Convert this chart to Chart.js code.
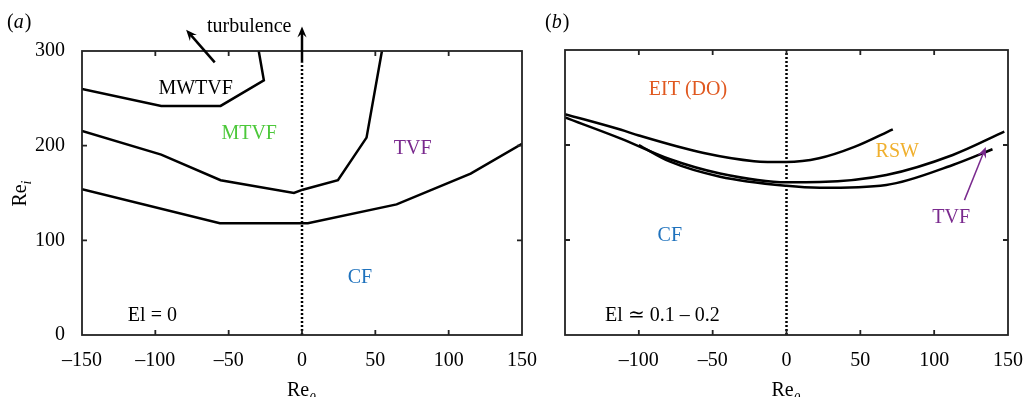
<!DOCTYPE html>
<html>
<head>
<meta charset="utf-8">
<script src="https://cdn.jsdelivr.net/npm/chart.js@4"></script>
<style>
  body { margin: 0; background: #fff; }
  #wrap { position: relative; width: 1025px; height: 397px; }
  .panel { position: absolute; top: 0; height: 397px; }
</style>
</head>
<body>
<div id="wrap">
  <div class="panel" style="left:0;width:540px"><canvas id="chartA"></canvas></div>
  <div class="panel" style="left:540px;width:485px"><canvas id="chartB"></canvas></div>
</div>
<script>
// axis ticks
const xTicks = [-150, -100, -50, 0, 50, 100, 150];
const yTicks = [0, 100, 200, 300];

// (a) El = 0 boundaries
const mwtvfX = [-150, -96, -55.5, -26, -29.5];
const mwtvfY = [260, 242, 242, 269, 300];
const mtvfX = [-150, -96, -55.5, -5.5, 0.5, 24.5, 44, 54.5];
const mtvfY = [215.5, 190.5, 163.5, 150, 153.5, 163.5, 208.5, 300];
const cfX = [-150, -56, 4, 64.5, 115, 150];
const cfY = [154, 118, 118, 138, 170.5, 202];

// (b) El ~ 0.1-0.2 boundaries
const eitX = [-150, -112, -100, -56, -22, 0, 22, 46, 72];
const eitY = [232.5, 216, 210, 191.5, 183, 182, 186, 198, 216.5];
const rswX = [-150, -112.6, -78.8, -45, 0, 22.5, 67.6, 112.6, 147.5];
const rswY = [229, 207, 185, 170, 160.7, 161, 168.4, 189.5, 214];
const tvfX = [-100, -78.8, -45, 0, 22.5, 67.6, 112.6, 139.5];
const tvfY = [200, 182.4, 166.6, 157, 155, 158, 179, 195.5];

const serif = '"Liberation Serif", "Times New Roman", serif';
const fmt = v => v < 0 ? '\u2013' + Math.abs(v) : String(v);
const pts = (xs, ys) => xs.map((x, i) => ({ x: x, y: ys[i] }));

function line(xs, ys, smooth) {
  return {
    data: pts(xs, ys), showLine: true, borderColor: '#000', borderWidth: 2.5,
    pointRadius: 0, fill: false, cubicInterpolationMode: smooth ? 'monotone' : 'default'
  };
}
function dotted(top) {
  return {
    data: [{ x: 0, y: 0 }, { x: 0, y: top }], showLine: true, borderColor: '#000',
    borderWidth: 2.5, borderDash: [2, 2], pointRadius: 0
  };
}

function arrow(ctx, x1, y1, x2, y2, color, w, head) {
  const ang = Math.atan2(y2 - y1, x2 - x1);
  ctx.strokeStyle = color; ctx.fillStyle = color; ctx.lineWidth = w;
  ctx.beginPath();
  ctx.moveTo(x1, y1);
  ctx.lineTo(x2 - Math.cos(ang) * head * 0.6, y2 - Math.sin(ang) * head * 0.6);
  ctx.stroke();
  ctx.save();
  ctx.translate(x2, y2); ctx.rotate(ang);
  ctx.beginPath();
  ctx.moveTo(0, 0); ctx.lineTo(-head, -head * 0.42); ctx.lineTo(-head * 0.65, 0); ctx.lineTo(-head, head * 0.42);
  ctx.closePath(); ctx.fill();
  ctx.restore();
}

function makeDecor(cfg) {
  return {
    id: 'decor',
    afterDatasetsDraw(chart) {
      const { ctx, chartArea: a, scales: { x, y } } = chart;
      ctx.save();
      ctx.strokeStyle = '#222'; ctx.lineWidth = 1.8;
      ctx.strokeRect(a.left, a.top, a.right - a.left, a.bottom - a.top);
      // inward tick marks on all four sides
      ctx.beginPath();
      x.ticks.forEach(t => {
        if (t.value <= x.min || t.value >= x.max) return;
        const px = x.getPixelForValue(t.value);
        ctx.moveTo(px, a.bottom); ctx.lineTo(px, a.bottom - 5);
        ctx.moveTo(px, a.top); ctx.lineTo(px, a.top + 5);
      });
      y.ticks.forEach(t => {
        if (t.value <= y.min || t.value >= y.max) return;
        const py = y.getPixelForValue(t.value);
        ctx.moveTo(a.left, py); ctx.lineTo(a.left + 5, py);
        ctx.moveTo(a.right, py); ctx.lineTo(a.right - 5, py);
      });
      ctx.stroke();

      ctx.textAlign = 'center'; ctx.textBaseline = 'middle';
      cfg.labels.forEach(l => {
        ctx.font = '20px ' + serif;
        ctx.fillStyle = l.color;
        ctx.fillText(l.text, x.getPixelForValue(l.x), y.getPixelForValue(l.y));
      });
      cfg.arrows.forEach(r => {
        arrow(ctx, x.getPixelForValue(r.from[0]), y.getPixelForValue(r.from[1]),
          x.getPixelForValue(r.to[0]), y.getPixelForValue(r.to[1]), r.color, r.width, r.head);
      });

      // panel tag
      ctx.fillStyle = '#000'; ctx.textAlign = 'left'; ctx.textBaseline = 'alphabetic';
      ctx.font = '20px ' + serif;
      let tx = cfg.tagX;
      ctx.fillText('(', tx, 28); tx += ctx.measureText('(').width;
      ctx.font = 'italic 20px ' + serif;
      ctx.fillText(cfg.tag, tx, 28); tx += ctx.measureText(cfg.tag).width + 1;
      ctx.font = '20px ' + serif;
      ctx.fillText(')', tx, 28);

      // x title Re_theta
      const cx = (a.left + a.right) / 2;
      ctx.font = '20px ' + serif;
      const w1 = ctx.measureText('Re').width;
      ctx.fillText('Re', cx - (w1 + 8) / 2, 396);
      ctx.font = 'italic 14px ' + serif;
      ctx.fillText('\u03b8', cx - (w1 + 8) / 2 + w1, 403);

      // y title Re_i
      if (cfg.yTitle) {
        ctx.save();
        ctx.translate(26, 193);
        ctx.rotate(-Math.PI / 2);
        ctx.font = '20px ' + serif;
        const w2 = ctx.measureText('Re').width;
        ctx.fillText('Re', -(w2 + 5) / 2, 0);
        ctx.font = 'italic 14px ' + serif;
        ctx.fillText('i', -(w2 + 5) / 2 + w2, 5);
        ctx.restore();
      }
      ctx.restore();
    }
  };
}

function scales(yWidth, showY, hideFirstX) {
  return {
    x: {
      type: 'linear', min: -150, max: 150,
      afterBuildTicks: s => { s.ticks = xTicks.map(v => ({ value: v })); },
      afterFit: s => { s.height = 62; s.paddingLeft = 0; s.paddingRight = 0; },
      grid: { display: false }, border: { display: false },
      ticks: {
        padding: 6, color: '#000', font: { family: serif, size: 20 }, maxRotation: 0,
        callback: v => (hideFirstX && v === -150) ? '' : fmt(v)
      }
    },
    y: {
      type: 'linear', min: 0, max: 300,
      afterBuildTicks: s => { s.ticks = yTicks.map(v => ({ value: v })); },
      afterFit: s => { s.width = yWidth; s.paddingTop = 0; s.paddingBottom = 0; },
      grid: { display: false }, border: { display: false },
      ticks: { display: showY, padding: 9, color: '#000', font: { family: serif, size: 20 } }
    }
  };
}

const baseOpts = {
  responsive: true, maintainAspectRatio: false, animation: false,
  plugins: { legend: { display: false }, tooltip: { enabled: false } }
};

new Chart(document.getElementById('chartA'), {
  type: 'scatter',
  data: {
    datasets: [
      line(mwtvfX, mwtvfY), line(mtvfX, mtvfY), line(cfX, cfY), dotted(288)
    ]
  },
  options: Object.assign({}, baseOpts, {
    layout: { padding: { top: 51, right: 18, left: 0, bottom: 0 } },
    scales: scales(82, true, false)
  }),
  plugins: [makeDecor({
    tag: 'a', tagX: 7, yTitle: true,
    labels: [
      { text: 'turbulence', x: -36, y: 326, color: '#000' },
      { text: 'MWTVF', x: -72.5, y: 260, color: '#000' },
      { text: 'MTVF', x: -36, y: 213, color: '#4cc83a' },
      { text: 'TVF', x: 75.5, y: 197, color: '#7a2a8e' },
      { text: 'CF', x: 39.5, y: 61, color: '#1f72bd' },
      { text: 'El = 0', x: -102, y: 20, color: '#000' }
    ],
    arrows: [
      { from: [0, 288], to: [0, 326], color: '#000', width: 2.5, head: 11 },
      { from: [-59.5, 288], to: [-79, 322.5], color: '#000', width: 2.5, head: 11 }
    ]
  })]
});

new Chart(document.getElementById('chartB'), {
  type: 'scatter',
  data: {
    datasets: [
      line(eitX, eitY, true), line(rswX, rswY, true), line(tvfX, tvfY, true), dotted(300)
    ]
  },
  options: Object.assign({}, baseOpts, {
    layout: { padding: { top: 50, right: 17, left: 0, bottom: 0 } },
    scales: scales(25, false, true)
  }),
  plugins: [makeDecor({
    tag: 'b', tagX: 5, yTitle: false,
    labels: [
      { text: 'EIT (DO)', x: -66.7, y: 258, color: '#e0581f' },
      { text: 'RSW', x: 75, y: 192.5, color: '#f0b02e' },
      { text: 'CF', x: -79, y: 105, color: '#1f72bd' },
      { text: 'TVF', x: 111.5, y: 123, color: '#7a2a8e' },
      { text: 'El \u2243 0.1 \u2013 0.2', x: -84, y: 20, color: '#000' }
    ],
    arrows: [
      { from: [120.5, 142], to: [135, 198], color: '#7a2a8e', width: 1.5, head: 11 }
    ]
  })]
});
</script>
</body>
</html>
